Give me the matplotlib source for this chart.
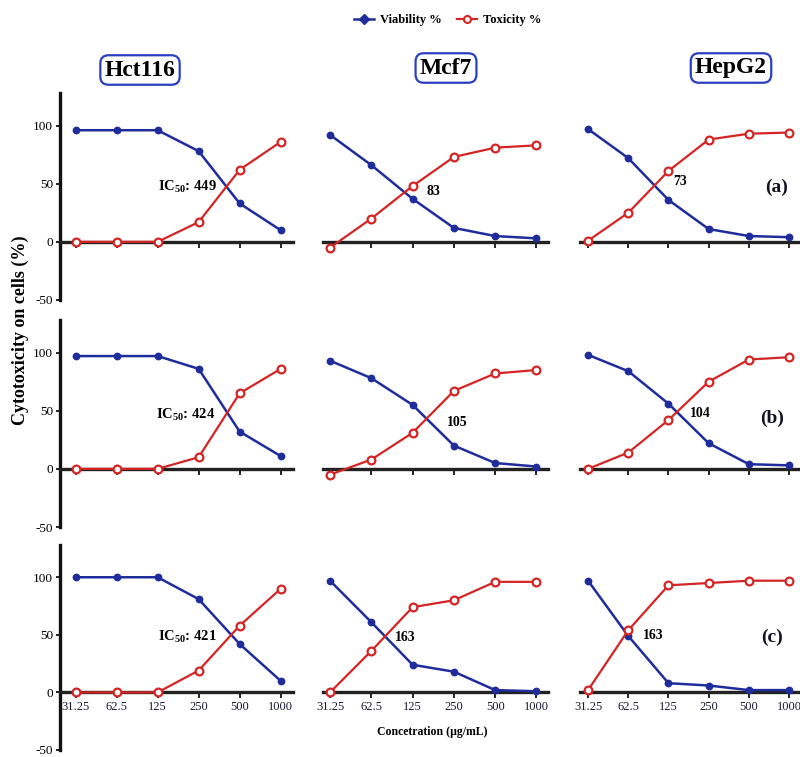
import matplotlib
matplotlib.use("Agg")
import matplotlib.pyplot as plt
from matplotlib.lines import Line2D

plt.rcParams["font.family"] = ["Liberation Serif", "DejaVu Serif"]
plt.rcParams["font.weight"] = "bold"
plt.rcParams["mathtext.fontset"] = "custom"
plt.rcParams["mathtext.rm"] = "Liberation Serif:bold"
plt.rcParams["mathtext.it"] = "Liberation Serif:bold"
plt.rcParams["mathtext.bf"] = "Liberation Serif:bold"

# ---- data ----
concentrations = ["31.25", "62.5", "125", "250", "500", "1000"]
cell_lines = ["Hct116", "Mcf7", "HepG2"]
panel_tags = ["(a)", "(b)", "(c)"]

# row (a)
viability_a = [[96, 96, 96, 78, 33, 10],
               [92, 66, 37, 12, 5, 3],
               [97, 72, 36, 11, 5, 4]]
toxicity_a = [[0, 0, 0, 17, 62, 86],
              [-5, 20, 48, 73, 81, 83],
              [1, 25, 61, 88, 93, 94]]
ic50_a = [449, 83, 73]

# row (b)
viability_b = [[97, 97, 97, 86, 32, 11],
               [93, 78, 55, 20, 5, 2],
               [98, 84, 56, 22, 4, 3]]
toxicity_b = [[0, 0, 0, 10, 65, 86],
              [-5, 8, 31, 67, 82, 85],
              [0, 14, 42, 75, 94, 96]]
ic50_b = [424, 105, 104]

# row (c)
viability_c = [[100, 100, 100, 81, 42, 10],
               [97, 61, 24, 18, 2, 1],
               [97, 49, 8, 6, 2, 2]]
toxicity_c = [[0, 0, 0, 19, 58, 90],
              [0, 36, 74, 80, 96, 96],
              [2, 54, 93, 95, 97, 97]]
ic50_c = [421, 163, 163]

viability_rows = [viability_a, viability_b, viability_c]
toxicity_rows = [toxicity_a, toxicity_b, toxicity_c]
ic50_rows = [ic50_a, ic50_b, ic50_c]

# ---- styling ----
BLUE = "#1f2c9c"
RED = "#d42424"
W, H = 800, 757

fig = plt.figure(figsize=(8.0, 7.57), dpi=100)

# column extents in pixels (left, right) and x-limits
col_px = [(60, 293), (323, 548), (580, 800)]
col_xlim = [(-0.38, 5.3), (-0.17, 5.28), (-0.2, 5.27)]
# row extents in pixels (top, bottom)
row_px = [(93, 300), (320, 527), (545, 750)]
YLIM = (-50, 128)

# label positions (data coords) per row, per column
ic50_pos = [[(2.0, 47), (2.5, 43), (2.29, 52)],
            [(1.96, 46), (3.08, 40), (2.79, 48)],
            [(2.0, 48), (1.82, 48), (1.62, 49)]]
tag_pos = [(4.68, 47), (4.57, 43.5), (4.57, 48)]

x = list(range(len(concentrations)))

for r in range(3):
    top, bot = row_px[r]
    for c in range(3):
        left, right = col_px[c]
        ax = fig.add_axes([left / W, 1 - bot / H, (right - left) / W, (bot - top) / H])
        ax.set_xlim(*col_xlim[c])
        ax.set_ylim(*YLIM)
        ax.patch.set_alpha(0)

        ax.plot(x, viability_rows[r][c], color=BLUE, lw=1.8, marker="o",
                ms=4.6, mfc=BLUE, mec=BLUE, zorder=4, clip_on=False)
        ax.plot(x, toxicity_rows[r][c], color=RED, lw=1.6, marker="o",
                ms=5.6, mfc="white", mec=RED, mew=1.6, zorder=5, clip_on=False)

        for s in ("top", "right"):
            ax.spines[s].set_visible(False)
        ax.spines["bottom"].set_position(("data", 0))
        ax.spines["bottom"].set_linewidth(2.4)
        ax.spines["bottom"].set_color("#222222")
        ax.spines["bottom"].set_zorder(3)
        ax.set_xticks(x)
        ax.tick_params(axis="x", direction="out", length=4, width=1.2,
                       pad=2, labelsize=9)
        if r == 2:
            ax.set_xticklabels(concentrations, fontweight="normal",
                               color="#1a1a33")
        else:
            ax.set_xticklabels([])

        if c == 0:
            ax.spines["left"].set_linewidth(2.4)
            ax.spines["left"].set_color("#111111")
            ax.set_yticks([-50, 0, 50, 100])
            ax.set_yticklabels(["-50", "0", "50", "100"], fontweight="normal")
            ax.tick_params(axis="y", direction="out", length=3, width=1.2,
                           pad=2, labelsize=9.5)
        else:
            ax.spines["left"].set_visible(False)
            ax.set_yticks([])

        tx, ty = ic50_pos[r][c]
        if c == 0:
            ax.text(tx, ty, r"IC$_{50}$: %d" % ic50_rows[r][c], fontsize=10.5,
                    fontweight="bold", ha="left", va="center", zorder=6)
        else:
            ax.text(tx, ty, str(ic50_rows[r][c]), fontsize=10,
                    fontweight="bold", ha="center", va="center", zorder=6)
        if c == 2:
            px, py = tag_pos[r]
            ax.text(px, py, panel_tags[r], fontsize=14, fontweight="bold",
                    ha="center", va="center", color="#111122")

# column headers in rounded boxes
header_px = [(140, 70), (446, 68), (731, 68)]
for name, (hx, hy) in zip(cell_lines, header_px):
    fig.text(hx / W, 1 - hy / H, name, fontsize=17, fontweight="bold",
             ha="center", va="center",
             bbox=dict(boxstyle="round,pad=0.18,rounding_size=0.35",
                       fc="white", ec="#2a3fc0", lw=1.6))

# shared axis labels
fig.text(20 / W, 1 - 330 / H, "Cytotoxicity on cells (%)", rotation=90,
         fontsize=13, fontweight="bold", ha="center", va="center")
fig.text(432 / W, 1 - 732 / H, "Concetration (µg/mL)", fontsize=8.5,
         fontweight="bold", ha="center", va="center")

# legend
handles = [
    Line2D([], [], color=BLUE, lw=1.8, marker="D", ms=5, mfc=BLUE, mec=BLUE),
    Line2D([], [], color=RED, lw=1.6, marker="o", ms=5, mfc="white",
           mec=RED, mew=1.5),
]
fig.legend(handles, ["Viability %", "Toxicity %"], loc="center",
           bbox_to_anchor=(448 / W, 1 - 20 / H), ncol=2, frameon=False,
           prop={"family": "Liberation Serif", "weight": "bold", "size": 9},
           handlelength=1.6, columnspacing=1.2, handletextpad=0.5)

fig.savefig("out.png", dpi=100)
